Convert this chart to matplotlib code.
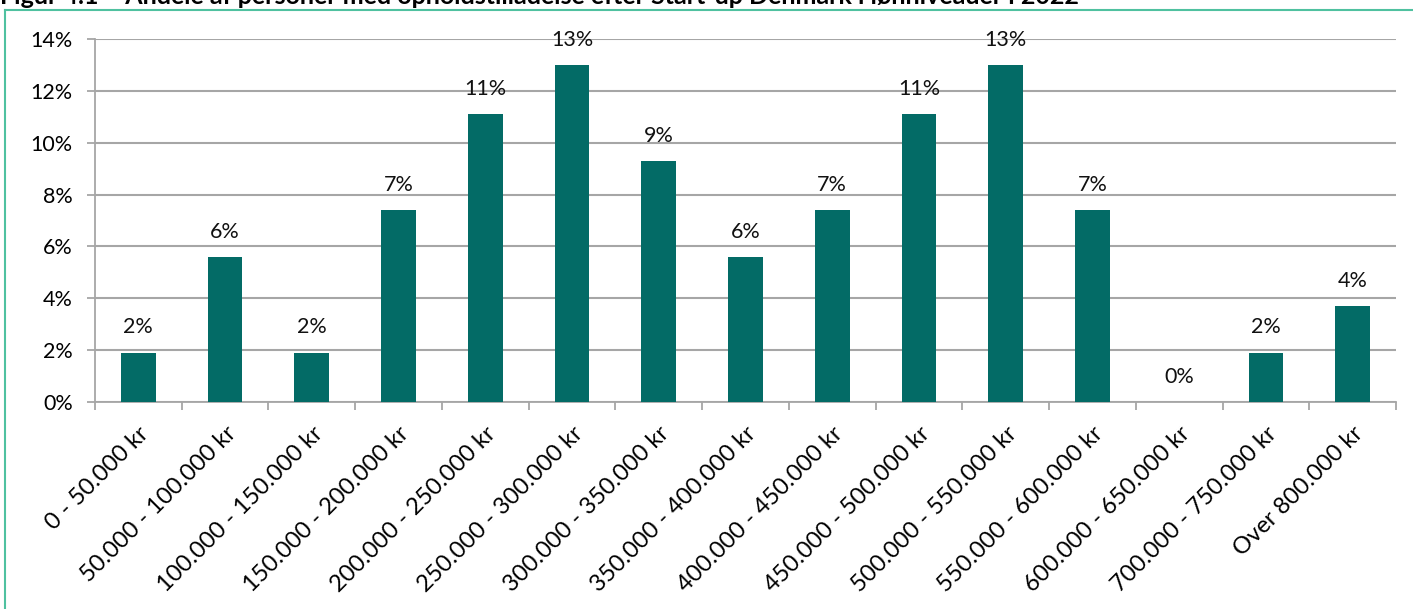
import numpy as np
import matplotlib.pyplot as plt
from matplotlib.lines import Line2D

# Data
categories = ['0 - 50.000 kr', '50.000 - 100.000 kr', '100.000 - 150.000 kr',
              '150.000 - 200.000 kr', '200.000 - 250.000 kr', '250.000 - 300.000 kr',
              '300.000 - 350.000 kr', '350.000 - 400.000 kr', '400.000 - 450.000 kr',
              '450.000 - 500.000 kr', '500.000 - 550.000 kr', '550.000 - 600.000 kr',
              '600.000 - 650.000 kr', '700.000 - 750.000 kr', 'Over 800.000 kr']
shares = [1.9, 5.6, 1.9, 7.4, 11.1, 13.0, 9.3, 5.6, 7.4, 11.1, 13.0, 7.4, 0.0, 1.9, 3.7]
bar_labels = ['2%', '6%', '2%', '7%', '11%', '13%', '9%', '6%', '7%', '11%', '13%', '7%', '0%', '2%', '4%']
yticks = [0, 2, 4, 6, 8, 10, 12, 14]
title = 'Figur 4.1 \u2013 Andele af personer med opholdstilladelse efter Start-up Denmark i lønniveauer i 2022'

plt.rcParams['font.family'] = ['Lato', 'DejaVu Sans']

fig = plt.figure(figsize=(14.13, 6.09), dpi=100)
ax = fig.add_axes([95/1413, 1 - 402/609, (1396 - 95)/1413, (402 - 39)/609])

x = np.arange(len(categories))
ax.bar(x, shares, width=0.4, color='#036b66', zorder=3)

for xi, v, lab in zip(x, shares, bar_labels):
    ax.annotate(lab, (xi, v), xytext=(0, 11), textcoords='offset points',
                ha='center', va='bottom', fontsize=15.5, color='#111111')

ax.set_xlim(-0.5, len(categories) - 0.5)
ax.set_ylim(0, 14)
ax.set_yticks(yticks)
ax.set_yticklabels([f'{t}%' for t in yticks], fontsize=15.5)
ax.yaxis.grid(True, color='#a6a6a6', linewidth=1.5, zorder=0)

ax.set_xticks(x)
ax.set_xticklabels(categories, rotation=45, ha='right', rotation_mode='anchor', fontsize=17)
ax.set_xticks(np.arange(-0.5, len(categories)), minor=True)
ax.tick_params(axis='x', which='major', length=0, pad=15)
ax.tick_params(axis='x', which='minor', length=6, color='#a6a6a6', width=1.3)
ax.tick_params(axis='y', length=6, color='#a6a6a6', width=1.3, pad=10)

for s in ['top', 'right']:
    ax.spines[s].set_visible(False)
for s in ['left', 'bottom']:
    ax.spines[s].set_color('#a6a6a6')
    ax.spines[s].set_linewidth(1.3)

# frame around the figure (cut off at right and bottom)
fig.add_artist(Line2D([5/1413, 1], [1 - 10/609, 1 - 10/609], color='#4fc1a0', linewidth=1.5))
fig.add_artist(Line2D([5/1413, 5/1413], [0, 1 - 10/609], color='#4fc1a0', linewidth=1.5))

# title sits mostly above the visible area, as in the source
fig.text(0.0, 1 - 4/609, title, ha='left', va='baseline', fontsize=18, fontweight='bold')

fig.savefig('out.png', dpi=100)
